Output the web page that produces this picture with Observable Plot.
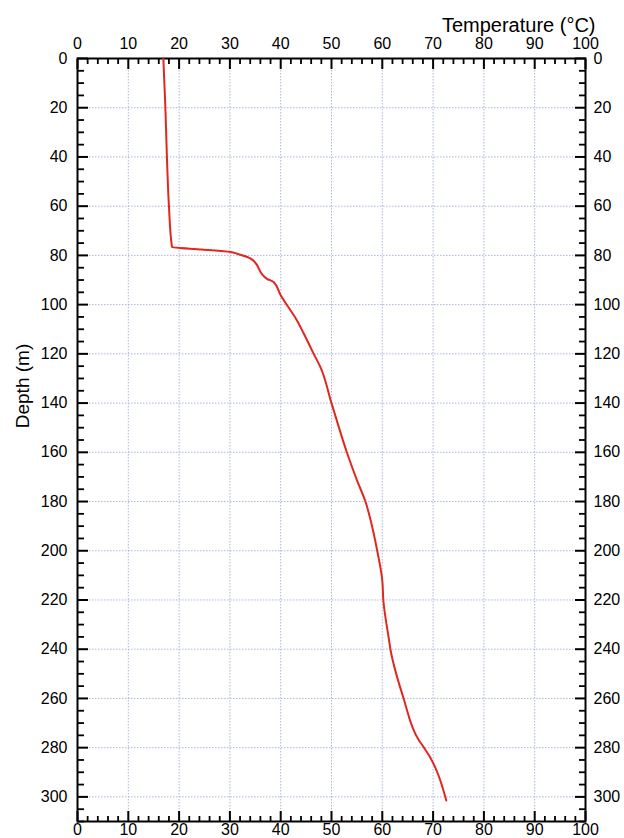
<!DOCTYPE html>
<html>
<head>
<meta charset="utf-8">
<script src="https://cdn.jsdelivr.net/npm/d3@7"></script>
<script src="https://cdn.jsdelivr.net/npm/@observablehq/plot@0.6"></script>
<style>
  body { margin: 0; background: #ffffff; }
  #chart { width: 624px; height: 838px; }
</style>
</head>
<body>
<div id="chart"></div>
<script>
// Temperature profile
const depth = [0, 20, 40, 60, 76.6, 77.6, 78.6, 79.3, 81.3, 89.5, 90.8, 96.2, 106.4, 114.5, 120, 125.3, 140, 160.5, 171.3, 180.1, 187.6, 200, 212, 220, 236, 240, 260, 277, 280, 283.5, 288.4, 301.5];
const temperature = [16.9, 17.3, 17.6, 18.0, 18.6, 24.5, 30.1, 31.4, 34.1, 37.3, 38.6, 40.0, 43.2, 45.2, 46.5, 47.8, 50.0, 53.1, 55.0, 56.7, 57.7, 59.0, 60.0, 60.2, 61.3, 61.6, 64.2, 67.2, 68.2, 69.3, 70.5, 72.6];

const xMajor = d3.range(0, 101, 10);
const xMinor = d3.range(0, 101, 2).filter(v => v % 10 !== 0);
const yMajor = d3.range(0, 301, 20);
const yMinor = d3.range(0, 311, 5).filter(v => v % 20 !== 0);
const xGrid = d3.range(10, 100, 10);
const yGrid = d3.range(20, 301, 20);

const xTitle = "Temperature (°C)";
const yTitle = "Depth (m)";

const profile = depth.map((d, i) => ({depth: d, temp: temperature[i]}));

const blank = () => "";
const gridColor = "#8f9fd0";

const chart = Plot.plot({
  width: 624,
  height: 838,
  marginLeft: 77,
  marginRight: 39,
  marginTop: 58,
  marginBottom: 17,
  style: {fontFamily: "'Liberation Sans', Arial, sans-serif", fontSize: "16px", background: "#ffffff", color: "#000"},
  x: {domain: [0, 100]},
  y: {domain: [0, 310], reverse: true},
  marks: [
    Plot.gridX(xGrid, {stroke: gridColor, strokeOpacity: 0.75, strokeDasharray: "1.5,1.5", strokeWidth: 1}),
    Plot.gridY(yGrid, {stroke: gridColor, strokeOpacity: 0.75, strokeDasharray: "1.5,1.5", strokeWidth: 1}),
    // inward ticks
    Plot.axisX(xMajor, {anchor: "top", tickSize: -10, tickFormat: blank, strokeWidth: 2, label: null}),
    Plot.axisX(xMinor, {anchor: "top", tickSize: -5, tickFormat: blank, strokeWidth: 1.8, label: null}),
    Plot.axisX(xMajor, {anchor: "bottom", tickSize: -10, tickFormat: blank, strokeWidth: 2, label: null}),
    Plot.axisX(xMinor, {anchor: "bottom", tickSize: -5, tickFormat: blank, strokeWidth: 1.8, label: null}),
    Plot.axisY(yMajor, {anchor: "left", tickSize: -11, tickFormat: blank, strokeWidth: 2, label: null}),
    Plot.axisY(yMinor, {anchor: "left", tickSize: -7, tickFormat: blank, strokeWidth: 1.8, label: null}),
    Plot.axisY(yMajor, {anchor: "right", tickSize: -11, tickFormat: blank, strokeWidth: 2, label: null}),
    Plot.axisY(yMinor, {anchor: "right", tickSize: -7, tickFormat: blank, strokeWidth: 1.8, label: null}),
    // tick labels
    Plot.axisX(xMajor, {anchor: "top", tickSize: 0, tickPadding: 10, fontSize: 16, label: null}),
    Plot.axisX(xMajor, {anchor: "bottom", tickSize: 0, tickPadding: 2, fontSize: 16, label: null}),
    Plot.axisY(yMajor, {anchor: "left", tickSize: 0, tickPadding: 10, fontSize: 16, label: null}),
    Plot.axisY(yMajor, {anchor: "right", tickSize: 0, tickPadding: 8, fontSize: 16, label: null}),
    Plot.frame({stroke: "#000", strokeWidth: 2}),
    Plot.line(profile, {x: "temp", y: "depth", stroke: "#e0281e", strokeWidth: 2, curve: "monotone-y"}),
    Plot.text([xTitle], {frameAnchor: "top-right", dx: 10, dy: -27, lineAnchor: "bottom", fontSize: 20, textAnchor: "end", fill: "#000"}),
    Plot.text([yTitle], {frameAnchor: "left", dx: -55, dy: -54, rotate: -90, fontSize: 19, textAnchor: "middle", fill: "#000"})
  ]
});
document.getElementById("chart").appendChild(chart);
</script>
</body>
</html>
